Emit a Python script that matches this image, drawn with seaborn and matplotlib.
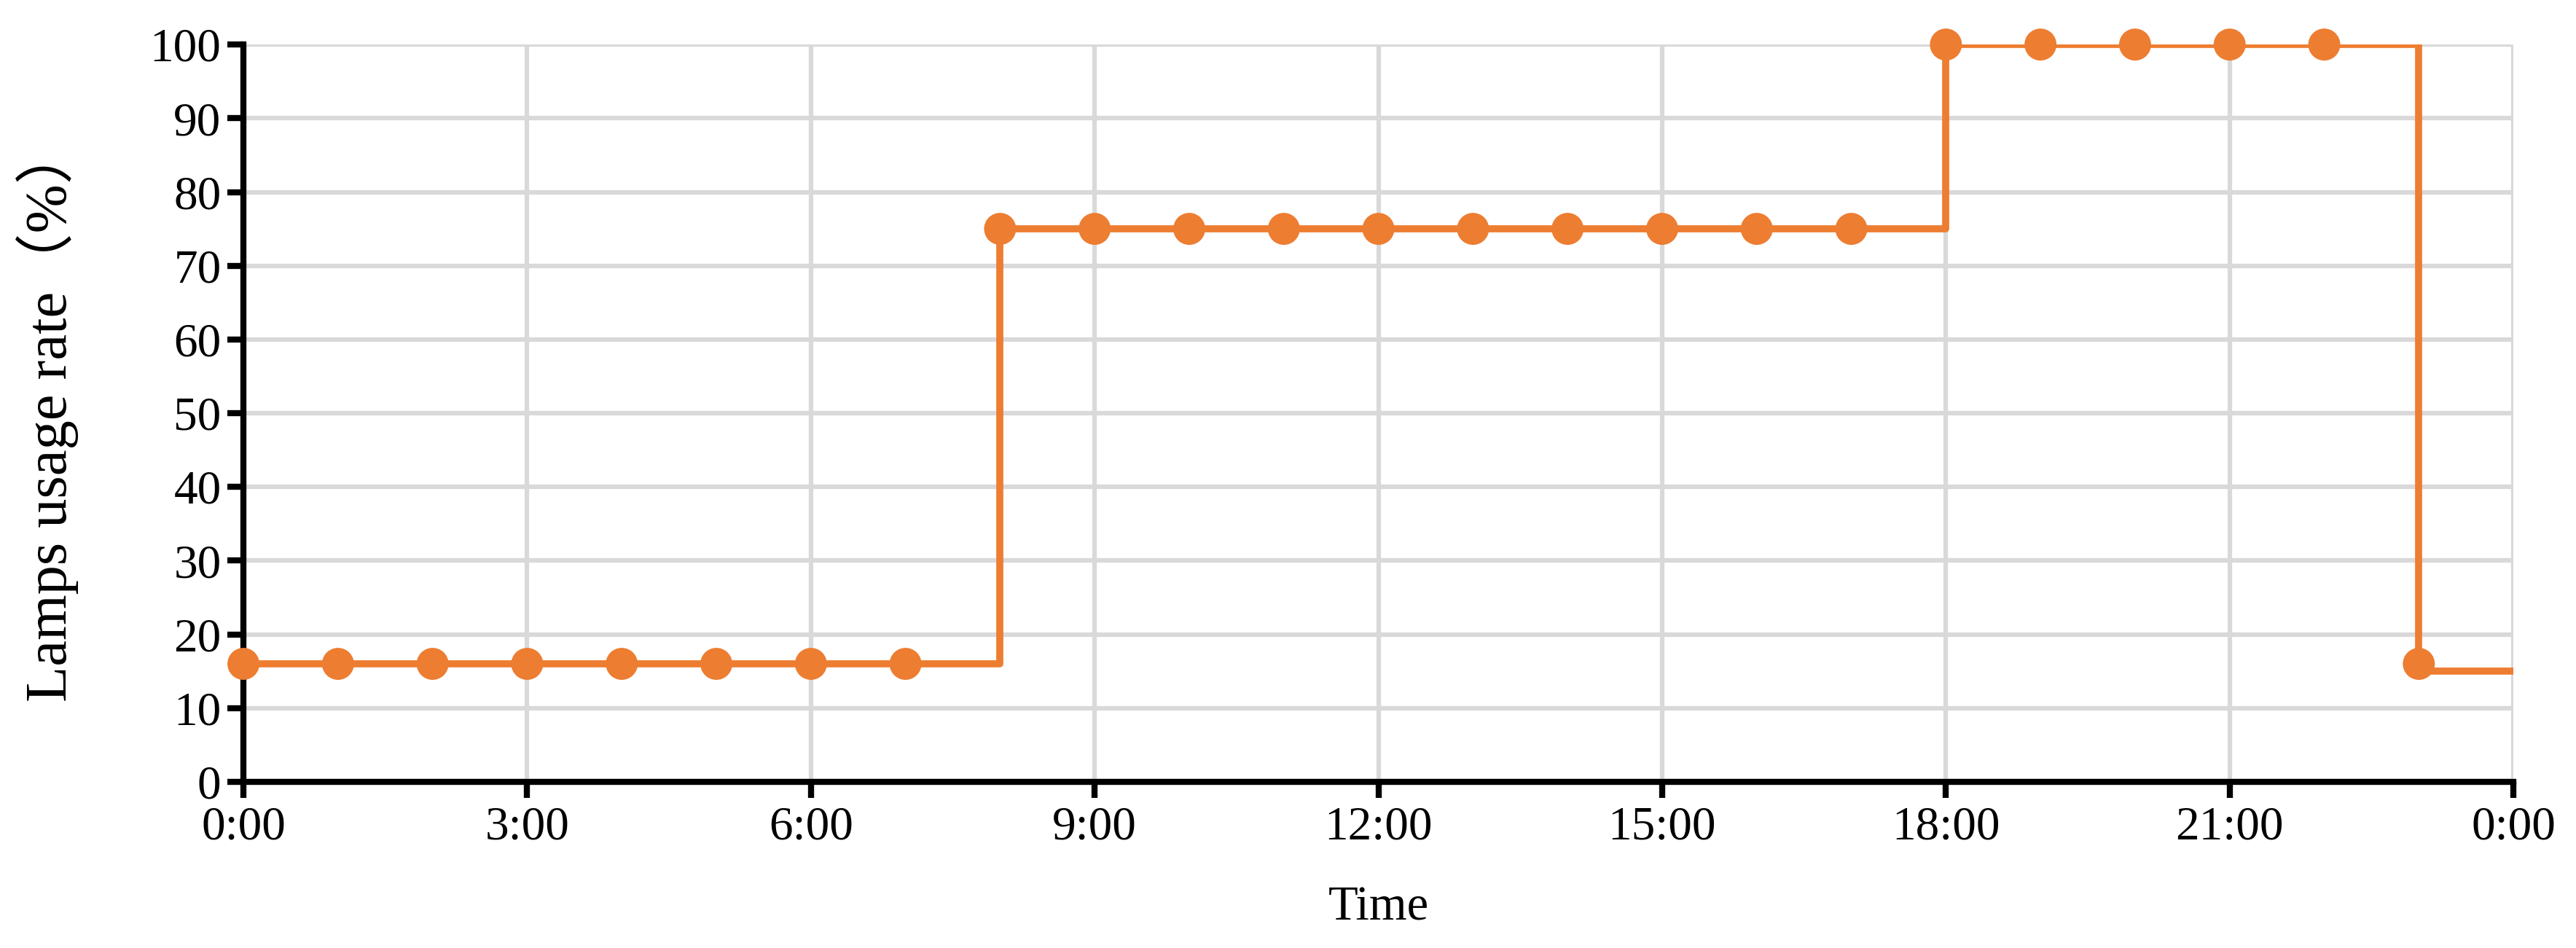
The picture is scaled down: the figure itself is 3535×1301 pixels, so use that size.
import matplotlib
matplotlib.use("Agg")
import matplotlib.pyplot as plt
import seaborn as sns
import pandas as pd

# Data
line_hours = [0, 1, 2, 3, 4, 5, 6, 7, 8, 9, 10, 11, 12, 13, 14, 15, 16, 17, 18, 19, 20, 21, 22, 23, 24]
line_rate = [16, 16, 16, 16, 16, 16, 16, 16, 75, 75, 75, 75, 75, 75, 75, 75, 75, 75, 100, 100, 100, 100, 100, 15, 15]
marker_hours = [0, 1, 2, 3, 4, 5, 6, 7, 8, 9, 10, 11, 12, 13, 14, 15, 16, 17, 18, 19, 20, 21, 22, 23]
marker_rate = [16, 16, 16, 16, 16, 16, 16, 16, 75, 75, 75, 75, 75, 75, 75, 75, 75, 75, 100, 100, 100, 100, 100, 16]
x_ticks = [0, 3, 6, 9, 12, 15, 18, 21, 24]
x_tick_labels = ["0:00", "3:00", "6:00", "9:00", "12:00", "15:00", "18:00", "21:00", "0:00"]
y_ticks = [0, 10, 20, 30, 40, 50, 60, 70, 80, 90, 100]

sns.set_theme(style="white")
plt.rcParams['font.family'] = ['Liberation Serif', 'Noto Sans CJK SC']

orange = "#ED7D31"
fig = plt.figure(figsize=(35.35, 13.01), dpi=100)
ax = fig.add_axes([0.0945, 0.1753, 0.9757 - 0.0945, 0.953 - 0.1753])

df_line = pd.DataFrame({"hour": line_hours, "rate": line_rate})
df_mark = pd.DataFrame({"hour": marker_hours, "rate": marker_rate})

sns.lineplot(data=df_line, x="hour", y="rate", ax=ax, color=orange,
             linewidth=7, drawstyle="steps-post", zorder=3)
sns.scatterplot(data=df_mark, x="hour", y="rate", ax=ax, color=orange,
                s=1000, edgecolor="none", linewidth=0, zorder=4, clip_on=False)

ax.set_xlim(0, 24)
ax.set_ylim(0, 100)
ax.set_xticks(x_ticks)
ax.set_xticklabels(x_tick_labels)
ax.set_yticks(y_ticks)

ax.grid(True, color="#d9d9d9", linewidth=4.5)
ax.set_axisbelow(True)
for side in ["top", "right"]:
    ax.spines[side].set_visible(False)
for side in ["left", "bottom"]:
    ax.spines[side].set_color("black")
    ax.spines[side].set_linewidth(6)

ax.tick_params(axis="both", which="major", direction="out", length=16, width=6,
               color="black", labelsize=47, labelcolor="black", pad=6, bottom=True, left=True)
ax.tick_params(axis="x", pad=8)

ax.set_xlabel("Time", fontsize=48, labelpad=36, color="black")
ax.set_ylabel("Lamps usage rate（%）", fontsize=58, color="black", labelpad=70)

fig.savefig("out.png", dpi=100, facecolor="white")
